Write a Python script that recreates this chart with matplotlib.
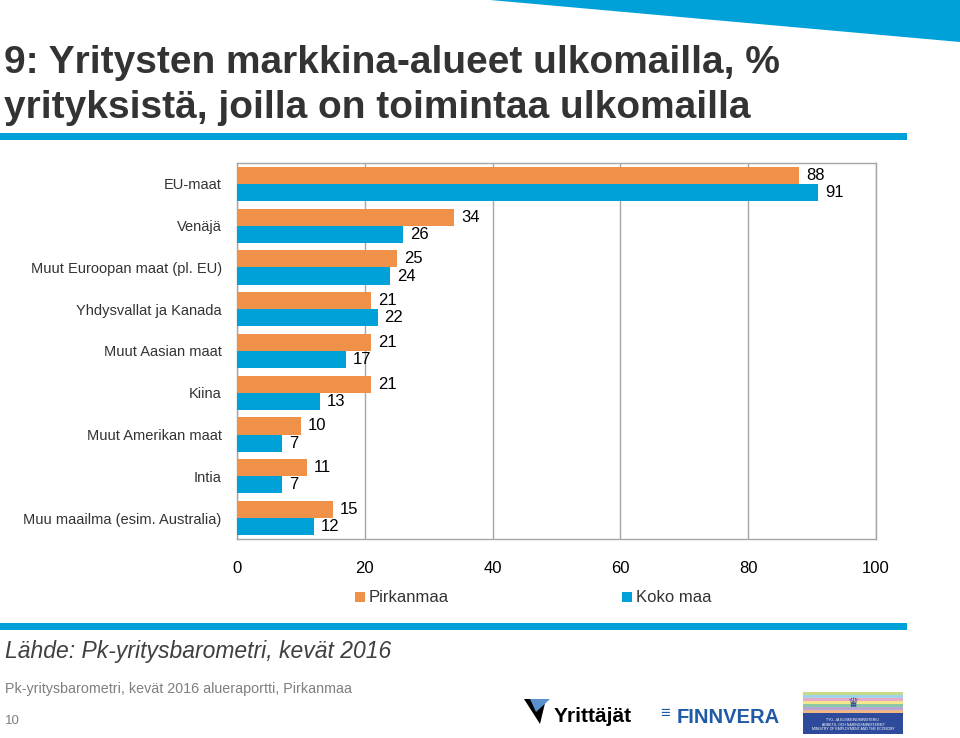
import matplotlib
matplotlib.use("Agg")
import matplotlib.pyplot as plt
from matplotlib.patches import Rectangle, Polygon

W, H = 960, 738

categories = ["EU-maat", "Venäjä", "Muut Euroopan maat (pl. EU)", "Yhdysvallat ja Kanada",
              "Muut Aasian maat", "Kiina", "Muut Amerikan maat", "Intia",
              "Muu maailma (esim. Australia)"]
series_names = ["Pirkanmaa", "Koko maa"]
pirkanmaa = [88, 34, 25, 21, 21, 21, 10, 11, 15]
koko_maa = [91, 26, 24, 22, 17, 13, 7, 7, 12]
xticks = [0, 20, 40, 60, 80, 100]

ORANGE = "#F0914A"
BLUE = "#00A0D8"
GRID = "#A6A6A6"
TXT = "#333333"

SANS = ["Liberation Sans", "DejaVu Sans"]

fig = plt.figure(figsize=(W / 100, H / 100), dpi=100)
fig.patch.set_facecolor("white")


def fx(x):
    return x / W


def fy(y):
    return 1 - y / H


# Top-right banner
fig.patches.append(Polygon([(fx(490), fy(0)), (fx(960), fy(0)), (fx(960), fy(42))],
                           closed=True, transform=fig.transFigure, facecolor=BLUE,
                           edgecolor="none"))

# Title
fig.text(fx(4), fy(73), "9: Yritysten markkina-alueet ulkomailla, %", family=SANS,
         fontsize=28, color=TXT, ha="left", va="baseline", fontweight="bold")
fig.text(fx(4), fy(118), "yrityksistä, joilla on toimintaa ulkomailla", family=SANS,
         fontsize=28, color=TXT, ha="left", va="baseline", fontweight="bold")

# Blue rules
fig.patches.append(Rectangle((fx(0), fy(140)), fx(907), 7 / H, transform=fig.transFigure,
                             facecolor=BLUE, edgecolor="none"))
fig.patches.append(Rectangle((fx(0), fy(630)), fx(907), 7 / H, transform=fig.transFigure,
                             facecolor=BLUE, edgecolor="none"))

# Axes
left, right, top, bottom = 237, 876, 163, 539
ax = fig.add_axes([fx(left), fy(bottom), fx(right - left), (bottom - top) / H])
n = len(categories)
pos = list(range(n))
h = 0.41
ax.barh([p - h / 2 for p in pos], pirkanmaa, height=h, color=ORANGE, zorder=3,
        label=series_names[0])
ax.barh([p + h / 2 for p in pos], koko_maa, height=h, color=BLUE, zorder=3,
        label=series_names[1])
ax.set_xlim(0, 100)
ax.set_ylim(n - 0.5, -0.5)
ax.set_xticks(xticks)
ax.set_xticklabels([str(t) for t in xticks], family=SANS, fontsize=12, color="black")
ax.set_yticks(pos)
ax.set_yticklabels(categories, family=SANS, fontsize=10.5, color=TXT)
ax.tick_params(axis="x", length=0, pad=16)
ax.tick_params(axis="y", length=0, pad=11)
ax.grid(axis="x", color=GRID, lw=1, zorder=0)
for s in ax.spines.values():
    s.set_color(GRID)
    s.set_linewidth(1)

for p, v in zip(pos, pirkanmaa):
    ax.annotate(str(v), (v, p - h / 2), xytext=(5, 0), textcoords="offset points",
                ha="left", va="center", family=SANS, fontsize=12, color="black", zorder=4)
for p, v in zip(pos, koko_maa):
    ax.annotate(str(v), (v, p + h / 2), xytext=(5, 0), textcoords="offset points",
                ha="left", va="center", family=SANS, fontsize=12, color="black", zorder=4)

# Legend (manual)
for (x0, name, col) in [(355, series_names[0], ORANGE), (622, series_names[1], BLUE)]:
    fig.patches.append(Rectangle((fx(x0), fy(602)), 10 / W, 10 / H, transform=fig.transFigure,
                                 facecolor=col, edgecolor="none"))
    fig.text(fx(x0 + 14), fy(597), name, family=SANS, fontsize=12, color=TXT,
             ha="left", va="center")

# Footer
fig.text(fx(5), fy(658), "Lähde: Pk-yritysbarometri, kevät 2016", family=SANS,
         fontsize=16.5, style="italic", color="#404040", ha="left", va="baseline")
fig.text(fx(5), fy(693), "Pk-yritysbarometri, kevät 2016 alueraportti, Pirkanmaa",
         family=SANS, fontsize=10.3, color="#7F7F7F", ha="left", va="baseline")
fig.text(fx(5), fy(724), "10", family=SANS, fontsize=9.5, color="#7F7F7F",
         ha="left", va="baseline")

# Logos (approximate)
fig.patches.append(Polygon([(fx(524), fy(699)), (fx(546), fy(699)), (fx(540), fy(724))],
                           closed=True, transform=fig.transFigure, facecolor="black",
                           edgecolor="none"))
fig.patches.append(Polygon([(fx(530), fy(699)), (fx(550), fy(699)), (fx(536), fy(712))],
                           closed=True, transform=fig.transFigure, facecolor="#5A8FD0",
                           edgecolor="none"))
fig.text(fx(554), fy(722), "Yrittäjät", family=SANS, fontsize=15, fontweight="bold",
         color="black", ha="left", va="baseline")
fig.text(fx(660), fy(714), "≡", family=SANS, fontsize=12, color="#1F5AA6",
         ha="left", va="center")
fig.text(fx(677), fy(723), "FINNVERA", family=SANS, fontsize=14.5, fontweight="bold",
         color="#1F5AA6", ha="left", va="baseline")
# ministry logo
stripes = ["#C8D98A", "#9FD3E8", "#E9A9C9", "#F3E58A", "#8CC8A8", "#B7A6D6", "#F0B887"]
for i, c in enumerate(stripes):
    fig.patches.append(Rectangle((fx(803), fy(692 + (i + 1) * 3)), 100 / W, 3 / H,
                                 transform=fig.transFigure, facecolor=c, edgecolor="none"))
fig.patches.append(Rectangle((fx(803), fy(734)), 100 / W, 21 / H, transform=fig.transFigure,
                             facecolor="#2E4A9A", edgecolor="none"))
fig.text(fx(853), fy(704), "♛", family=SANS, fontsize=9, color="#2E4A9A",
         ha="center", va="center")
for k, t in enumerate(["TYÖ- JA ELINKEINOMINISTERIÖ", "ARBETS- OCH NÄRINGSMINISTERIET",
                       "MINISTRY OF EMPLOYMENT AND THE ECONOMY"]):
    fig.text(fx(853), fy(720 + k * 4.5), t, family=SANS, fontsize=2.5, color="white",
             ha="center", va="center")

fig.savefig("out.png", dpi=100, facecolor="white")
